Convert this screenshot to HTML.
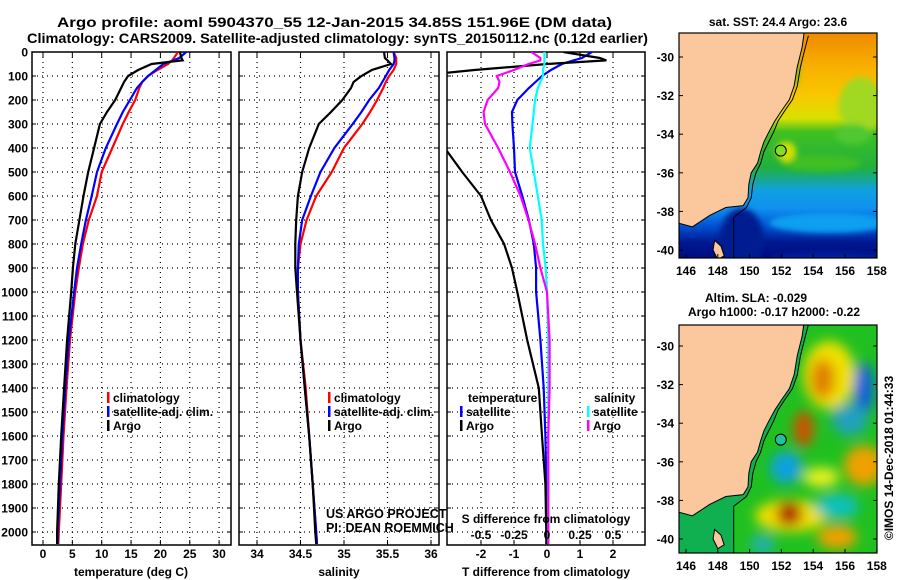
<!DOCTYPE html>
<html><head><meta charset="utf-8"><style>
html,body{margin:0;padding:0;background:#fff;}
svg{display:block;font-family:"Liberation Sans",sans-serif;}
.t{font-size:12px;font-weight:bold;fill:#000;}
</style></head><body>
<svg id="c" width="900" height="580" viewBox="0 0 900 580" xmlns="http://www.w3.org/2000/svg">
<defs>
<clipPath id="cp1"><rect x="32" y="52" width="199" height="493"/></clipPath>
<clipPath id="cp2"><rect x="239" y="52" width="200" height="493"/></clipPath>
<clipPath id="cp3"><rect x="447" y="52" width="198" height="493"/></clipPath>
<clipPath id="cpm1"><rect x="679" y="33" width="198" height="225"/></clipPath>
<clipPath id="cpm2"><rect x="679" y="325" width="198" height="228"/></clipPath>
<filter id="blur" x="-50%" y="-50%" width="200%" height="200%"><feGaussianBlur stdDeviation="6"/></filter>
<filter id="blur2" x="-50%" y="-50%" width="200%" height="200%"><feGaussianBlur stdDeviation="3"/></filter>
<linearGradient id="sstg" x1="0" y1="0" x2="0" y2="1">
<stop offset="0" stop-color="#f08a00"/><stop offset="0.15" stop-color="#f8b000"/><stop offset="0.28" stop-color="#f8c800"/>
<stop offset="0.38" stop-color="#d8e000"/><stop offset="0.44" stop-color="#40c020"/><stop offset="0.6" stop-color="#20b040"/>
<stop offset="0.7" stop-color="#10a0e0"/><stop offset="0.78" stop-color="#1090f0"/><stop offset="0.86" stop-color="#0050d0"/>
<stop offset="0.93" stop-color="#001890"/><stop offset="1" stop-color="#000c80"/>
</linearGradient>
</defs>
<text x="57" y="27" class="t" style="font-size:14px" textLength="555" lengthAdjust="spacingAndGlyphs">Argo profile: aoml 5904370_55 12-Jan-2015 34.85S 151.96E (DM data)</text>
<text x="27" y="43" class="t" style="font-size:14px" textLength="621" lengthAdjust="spacingAndGlyphs">Climatology: CARS2009. Satellite-adjusted climatology: synTS_20150112.nc (0.12d earlier)</text>
<g id="g"></g>
</svg>
<script>
// ---- data ----
const depths = [0,25,35,50,75,100,125,150,200,250,300,400,500,600,700,800,900,1000,1200,1400,1600,1800,2000,2050];
const tempClim = [23,22.3,22,21.3,19.5,17.9,16.9,16.4,15.7,14.6,13.6,11.8,10,9.2,7.8,6.8,6.1,5.5,4.6,4,3.5,3.1,2.7,2.6];
const tempSat = [24.4,23.2,22.2,20.5,19.2,17.9,16.9,16,14.8,13.6,12.6,10.7,9.2,8.3,7.3,6.5,5.8,5.3,4.4,3.8,3.3,2.9,2.5,2.5];
const tempArgo = [23.3,23.6,23.8,18.5,16.2,14.5,13.8,13.3,12.3,10.9,9.7,8.7,7.7,6.9,6.2,5.5,5.1,4.8,4.1,3.6,3.1,2.7,2.4,2.4];
const salClim = [35.57,35.6,35.6,35.6,35.57,35.52,35.48,35.45,35.38,35.3,35.21,35.0,34.86,34.68,34.57,34.5,34.47,34.47,34.5,34.56,34.6,34.64,34.68,34.69];
const salSat = [35.57,35.58,35.58,35.57,35.52,35.48,35.44,35.4,35.29,35.2,35.1,34.89,34.73,34.62,34.52,34.48,34.47,34.47,34.5,34.55,34.6,34.64,34.68,34.69];
const salArgo = [35.46,35.47,35.5,35.54,35.32,35.2,35.11,35.08,34.98,34.85,34.71,34.6,34.52,34.47,34.45,34.44,34.44,34.46,34.5,34.55,34.6,34.64,34.67,34.68];
const dTSat = [1.36,1.06,0.8,0.45,0.12,-0.15,-0.35,-0.55,-0.9,-1.06,-1.05,-1.0,-0.97,-0.75,-0.55,-0.4,-0.33,-0.33,-0.2,-0.1,-0.05,-0.02,0,0];
const dTArgo = [0.5,1.6,1.8,0.0,-2.2,-4,-4,-4,-4,-4,-4,-3.1,-2.57,-2.0,-1.7,-1.3,-1.06,-0.9,-0.6,-0.25,-0.15,-0.05,-0.02,-0.02];
const dSSat = [-0.02,-0.02,-0.02,-0.02,-0.03,-0.03,-0.05,-0.07,-0.09,-0.1,-0.11,-0.13,-0.1,-0.07,-0.04,-0.03,-0.01,0,0.01,0.01,0.01,0.01,0.01,0.01];
const dSArgo = [-0.12,-0.05,-0.05,-0.14,-0.25,-0.38,-0.36,-0.37,-0.45,-0.48,-0.47,-0.37,-0.28,-0.2,-0.14,-0.09,-0.05,0,0.02,0.02,0.01,0.01,0.01,0.01];
const depthTicks = [0,100,200,300,400,500,600,700,800,900,1000,1100,1200,1300,1400,1500,1600,1700,1800,1900,2000];
const tempTicks = [0,5,10,15,20,25,30];
const salTicks = [34,34.5,35,35.5,36];
const dTTicks = [-2,-1,0,1,2];
const dSTicks = [-0.5,-0.25,0,0.25,0.5];
const dSTickLabels = ["-0.5","-0.25","0","0.25","0.5"];
const mapLonTicks = [146,148,150,152,154,156,158];
const mapLatTicks = [-30,-32,-34,-36,-38,-40];
const coastLon = [153.4,153.3,153.0,152.8,152.5,152.0,151.6,151.2,150.9,150.7,150.5,150.1,149.95,149.9,149.6,148.5,147.5,146.4,145.5];
const coastLat = [-28.9,-29.5,-30.5,-31.5,-32.2,-32.8,-33.3,-33.9,-34.4,-34.9,-35.5,-36.0,-36.6,-37.3,-37.7,-37.8,-38.2,-38.8,-38.6];
const shelfLon = [153.7,153.5,153.2,153.0,152.7,152.2,151.8,151.5,151.2,150.9,150.7,150.4,150.2,150.1,149.8,149.0,149.0,149.0];
const shelfLat = [-28.9,-29.5,-30.5,-31.5,-32.2,-32.8,-33.3,-33.9,-34.4,-34.9,-35.5,-36.0,-36.6,-37.3,-37.8,-38.3,-39.5,-40.8];
const argoLon = 151.96, argoLat = -34.85;

const NS="http://www.w3.org/2000/svg";
const G=document.getElementById('g');
function el(tag,attrs,parent){const e=document.createElementNS(NS,tag);for(const k in attrs)e.setAttribute(k,attrs[k]);(parent||G).appendChild(e);return e;}
function txt(x,y,s,anchor,cls,parent){const e=el('text',{x:x,y:y,'text-anchor':anchor||'start','class':cls||'t'},parent);e.textContent=s;return e;}

const yD = d => 52 + d*0.24;
const xTemp = v => 43 + v*5.87;
const xSal = v => 257 + (v-34)*87;
const xDT = v => 547 + v*33;
const xDS = v => 547 + v*132;

function panel(x0,x1,name,xTicks,xf){
  const g=el('g',{});
  
  
  depthTicks.forEach(d=>{ if(d>0){const l=el('line',{x1:x0,x2:x1,y1:yD(d),y2:yD(d),stroke:'#000','stroke-width':1.2,'stroke-dasharray':'1 4'},g);
    
    }
    el('line',{x1:x0,x2:x0+4,y1:yD(d),y2:yD(d),stroke:'#000'},g); el('line',{x1:x1-4,x2:x1,y1:yD(d),y2:yD(d),stroke:'#000'},g);});
  xTicks.forEach(v=>{const x=xf(v);const l=el('line',{x1:x,x2:x,y1:52,y2:545,stroke:'#000','stroke-width':1.2,'stroke-dasharray':'1 4'},g);
    
    
    el('line',{x1:x,x2:x,y1:52,y2:57,stroke:'#000'},g);el('line',{x1:x,x2:x,y1:540,y2:545,stroke:'#000'},g);});
  const r=el('rect',{x:x0,y:52,width:x1-x0,height:493,fill:'none',stroke:'#000','stroke-width':1.5},g);
  
  
  return g;
}
function line(vals,xf,color,clip,name){
  const pts=depths.map((d,i)=>xf(vals[i]).toFixed(1)+','+yD(d).toFixed(1)).join(' ');
  const p=el('polyline',{points:pts,fill:'none',stroke:color,'stroke-width':2.2,'clip-path':'url(#'+clip+')'});
  
  
}

depthTicks.forEach(d=>{const t=txt(28,yD(d)+4.5,String(d),'end');
  
  });

// Panel 1
panel(32,231,'temperature-panel',tempTicks,xTemp);
tempTicks.forEach(v=>{const t=txt(xTemp(v),558,String(v),'middle');
  
  });
line(tempClim,xTemp,'#ff0000','cp1','temp-climatology-line');
line(tempSat,xTemp,'#0000ff','cp1','temp-satellite-line');
line(tempArgo,xTemp,'#000000','cp1','temp-argo-line');
let xt=txt(131,576,'temperature (deg C)','middle');



// Panel 2
panel(239,439,'salinity-panel',salTicks,xSal);
salTicks.forEach(v=>{const t=txt(xSal(v),558,String(v),'middle');
  
  });
line(salClim,xSal,'#ff0000','cp2','sal-climatology-line');
line(salSat,xSal,'#0000ff','cp2','sal-satellite-line');
line(salArgo,xSal,'#000000','cp2','sal-argo-line');
xt=txt(339,576,'salinity','middle');



// Panel 3
panel(447,645,'difference-panel',dTTicks,xDT);
line(dTSat,xDT,'#0000ff','cp3','dT-satellite-line');
line(dTArgo,xDT,'#000000','cp3','dT-argo-line');
line(dSSat,xDS,'#00ffff','cp3','dS-satellite-line');
line(dSArgo,xDS,'#ff00ff','cp3','dS-argo-line');
dTTicks.forEach(v=>{const t=txt(xDT(v),558,String(v),'middle');
  
  });
dSTicks.forEach((v,i)=>{const t=txt(xDS(v),539,dSTickLabels[i],'middle');
  
  });
xt=txt(546,523,'S difference from climatology','middle');


xt=txt(546,576,'T difference from climatology','middle');



function legend(x,y,color,label,name){
  const g=el('g',{});
  
  
  el('rect',{x:x,y:y-10,width:2.5,height:11,fill:color},g);
  txt(x+6,y,label,'start','t',g);
}
legend(107,402,'#ff0000','climatology','legend-temp-climatology');
legend(107,416,'#0000ff','satellite-adj. clim.','legend-temp-satellite');
legend(107,430,'#000000','Argo','legend-temp-argo');
legend(328,402,'#ff0000','climatology','legend-sal-climatology');
legend(328,416,'#0000ff','satellite-adj. clim.','legend-sal-satellite');
legend(328,430,'#000000','Argo','legend-sal-argo');
xt=txt(468,402,'temperature');


legend(460,416,'#0000ff','satellite','legend-dT-satellite');
legend(460,430,'#000000','Argo','legend-dT-argo');
xt=txt(594,402,'salinity');


legend(587,416,'#00ffff','satellite','legend-dS-satellite');
legend(587,430,'#ff00ff','Argo','legend-dS-argo');

const pi1=txt(326,518,'US ARGO PROJECT','start','');
pi1.setAttribute('style','font-size:12.5px;fill:#000');


const pi2=txt(326,532,'PI: DEAN ROEMMICH','start','');
pi2.setAttribute('style','font-size:12.5px;fill:#000');



// ---- maps ----
const mx = lon => 686 + (lon-146)*15.9;
function map(top,bottom,lat30,name,isSST){
  const my = lat => lat30 + (-30-lat)*19.3;
  const h=bottom-top;
  const g=el('g',{});
  
  
  const cg=el('g',{'clip-path':'url(#'+(isSST?'cpm1':'cpm2')+')'},g);
  if(isSST){
    el('rect',{x:679,y:top,width:198,height:h,fill:'url(#sstg)'},cg);
    const bl=el('g',{filter:'url(#blur2)'},cg);
    el('ellipse',{cx:mx(157),cy:my(-32.5),rx:22,ry:28,fill:'#a0d820'},bl);
    el('ellipse',{cx:mx(156.5),cy:my(-34),rx:18,ry:10,fill:'#50c830'},bl);
    el('ellipse',{cx:mx(154.5),cy:my(-35.5),rx:40,ry:8,fill:'#40c020'},bl);
    el('ellipse',{cx:mx(152.3),cy:my(-34.9),rx:10,ry:10,fill:'#d0e000'},bl);
    el('ellipse',{cx:mx(152.8),cy:my(-30.5),rx:5,ry:20,fill:'#60c820'},bl);
    el('ellipse',{cx:mx(155),cy:my(-38.6),rx:60,ry:10,fill:'#10a0f0'},bl);
    el('ellipse',{cx:mx(149.5),cy:my(-39.5),rx:22,ry:32,fill:'#001a90'},bl);
    el('ellipse',{cx:mx(155),cy:my(-40.5),rx:60,ry:7,fill:'#0020a0'},bl);
  } else {
    el('rect',{x:679,y:top,width:198,height:h,fill:'#20c020'},cg);
    const bl=el('g',{filter:'url(#blur)'},cg);
    const blobs=[[155,-31.5,26,34,'#f0e000'],[154.6,-31.7,12,20,'#e08000'],[153.4,-34.3,10,18,'#d05000'],
      [157.2,-32.2,10,26,'#1060e0'],[156.3,-33.8,18,16,'#20a0c0'],[152.3,-36.3,16,16,'#10a0e0'],
      [157.2,-36.2,20,20,'#f0a000'],[152.6,-38.8,36,16,'#f0e000'],[152.5,-38.7,13,12,'#b02000'],
      [155.5,-38.3,22,12,'#10c0c0'],[155.5,-39.9,20,12,'#f0a000'],[150.8,-40.3,12,10,'#20b0b0'],
      [154.5,-36.8,18,10,'#e8f020']];
    blobs.forEach(b=>el('ellipse',{cx:mx(b[0]),cy:my(b[1]),rx:b[2],ry:b[3],fill:b[4]},bl));
    el('polygon',{points:shelfLon.map((l,i)=>mx(l)+','+my(shelfLat[i])).join(' ')+' '+mx(145)+','+my(-41)+' '+mx(145)+','+my(-28),fill:'#10b050'},cg);
  }
  const lp=coastLon.map((l,i)=>mx(l).toFixed(1)+','+my(coastLat[i]).toFixed(1)).join(' ')+' '+mx(145)+','+my(-38.6)+' '+mx(145)+','+my(-28)+' '+mx(153.5)+','+my(-28);
  const land=el('polygon',{points:lp,fill:'#fac89c',stroke:'#000','stroke-width':1},cg);
  
  
  el('polygon',{points:[[147.8,-39.5],[148.2,-39.8],[148.4,-40.3],[148.0,-40.5],[147.7,-40.0]].map(p=>mx(p[0])+','+my(p[1])).join(' '),fill:'#fac89c',stroke:'#000','stroke-width':1},cg);
  el('polyline',{points:shelfLon.map((l,i)=>mx(l).toFixed(1)+','+my(shelfLat[i]).toFixed(1)).join(' '),fill:'none',stroke:'#000','stroke-width':1},cg);
  const c=el('circle',{cx:mx(argoLon),cy:my(argoLat),r:5.5,fill:isSST?'#80e020':'#20c0a0',stroke:'#000','stroke-width':1},g);
  
  
  el('rect',{x:679,y:top,width:198,height:h,fill:'none',stroke:'#000','stroke-width':1.2},g);
  mapLatTicks.forEach(l=>{const y=my(l);el('line',{x1:679,x2:683,y1:y,y2:y,stroke:'#000'},g);el('line',{x1:873,x2:877,y1:y,y2:y,stroke:'#000'},g);
    const t=txt(674,y+4.5,String(l),'end','t',g);
    
    });
  mapLonTicks.forEach(l=>{const x=mx(l);el('line',{x1:x,x2:x,y1:bottom,y2:bottom-4,stroke:'#000'},g);
    const t=txt(x,bottom+17,String(l),'middle','t',g);
    
    });
}
map(33,258,57,'sst-map',true);
map(325,553,346,'sla-map',false);
xt=txt(778,26,'sat. SST: 24.4 Argo: 23.6','middle');


xt=txt(756,302,'Altim. SLA: -0.029','middle');


xt=txt(774,316,'Argo h1000: -0.17 h2000: -0.22','middle');


const stamp=txt(0,0,'©IMOS 14-Dec-2018 01:44:33','middle','');
stamp.setAttribute('transform','translate(893,458) rotate(-90)');
stamp.setAttribute('style','font-size:12px;fill:#000');


</script>
</body></html>
